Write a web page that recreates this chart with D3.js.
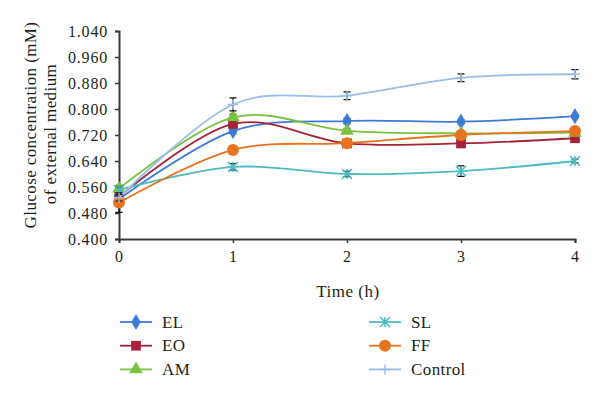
<!DOCTYPE html>
<html><head><meta charset="utf-8">
<script src="https://cdn.jsdelivr.net/npm/d3@7"></script>
<style>body{margin:0;background:#fff}svg{display:block}text{font-family:"Liberation Serif","DejaVu Serif",serif;fill:#231f20}</style>
</head><body><svg id="c" width="600" height="401"></svg>
<script>
const times = [0, 1, 2, 3, 4];
const yTicks = [0.400, 0.480, 0.560, 0.640, 0.720, 0.800, 0.880, 0.960, 1.040];
const xTicks = [0, 1, 2, 3, 4];
const seriesNames = ["EL", "EO", "AM", "SL", "FF", "Control"];
const EL = [0.522, 0.732, 0.763, 0.761, 0.778];
const EO = [0.530, 0.754, 0.694, 0.694, 0.710];
const AM = [0.555, 0.774, 0.733, 0.725, 0.727];
const SL = [0.551, 0.622, 0.600, 0.609, 0.640];
const FF = [0.512, 0.674, 0.695, 0.720, 0.732];
const Control = [0.527, 0.814, 0.841, 0.896, 0.907];
const errEL = [0.010, 0.008, 0.008, 0.006, 0.005];
const errEO = [0.010, 0.010, 0.008, 0.006, 0.006];
const errAM = [0.010, 0.010, 0.006, 0.006, 0.006];
const errSL = [0.008, 0.010, 0.008, 0.016, 0.006];
const errFF = [0.030, 0.012, 0.006, 0.006, 0.006];
const errControl = [0.010, 0.020, 0.012, 0.012, 0.014];
const colors = ["#3b7bd8", "#a52339", "#7cc242", "#4cbcc2", "#e8731f", "#9dbde9"];
const markers = ["diamond", "square", "triangle", "star", "circle", "plus"];

const values = [EL, EO, AM, SL, FF, Control];
const errs = [errEL, errEO, errAM, errSL, errFF, errControl];
const series = seriesNames.map((n, i) => ({name: n, color: colors[i], marker: markers[i],
  pts: times.map((t, j) => ({t, v: values[i][j], e: errs[i][j]}))}));

const svg = d3.select("#c");
const x = d3.scaleLinear().domain([0, 4]).range([119, 575]);
const y = d3.scaleLinear().domain([0.4, 1.04]).range([239, 31]);
const axisCol = "#3a3a3a";

// axes
const gy = svg.append("g").attr("transform", "translate(119,0)")
  .call(d3.axisLeft(y).tickValues(yTicks).tickFormat(d3.format(".3f")).tickSize(4).tickPadding(7));
const gx = svg.append("g").attr("transform", "translate(0,239)")
  .call(d3.axisBottom(x).tickValues(xTicks).tickFormat(d3.format("d")).tickSize(4).tickPadding(8));
[gy, gx].forEach(g => {
  g.select(".domain").attr("stroke", axisCol).attr("stroke-width", 2);
  g.selectAll(".tick line").attr("stroke", axisCol).attr("stroke-width", 1.5);
  g.selectAll(".tick text").attr("font-size", 16).attr("letter-spacing", 0.8)
    .attr("font-family", "Liberation Serif, serif").attr("fill", "#231f20");
});

// titles
svg.append("text").attr("transform", "translate(36,125) rotate(-90)").attr("text-anchor", "middle")
  .attr("font-size", 17).attr("letter-spacing", 0.4).text("Glucose concentration (mM)");
svg.append("text").attr("transform", "translate(56,134) rotate(-90)").attr("text-anchor", "middle")
  .attr("font-size", 17).attr("letter-spacing", 0.4).text("of external medium");
svg.append("text").attr("x", 348).attr("y", 297).attr("text-anchor", "middle")
  .attr("font-size", 17).attr("letter-spacing", 0.5).text("Time (h)");

const line = d3.line().x(d => x(d.t)).y(d => y(d.v)).curve(d3.curveCardinal.tension(0));

function drawMarker(g, type, color, cx, cy) {
  if (type === "diamond") {
    g.append("path").attr("d", d3.symbol(d3.symbolDiamond, 75)()).attr("transform", `translate(${cx},${cy})`).attr("fill", color);
  } else if (type === "square") {
    g.append("path").attr("d", d3.symbol(d3.symbolSquare, 95)()).attr("transform", `translate(${cx},${cy})`).attr("fill", color);
  } else if (type === "triangle") {
    g.append("path").attr("d", d3.symbol(d3.symbolTriangle, 80)()).attr("transform", `translate(${cx},${cy})`).attr("fill", color);
  } else if (type === "circle") {
    g.append("circle").attr("cx", cx).attr("cy", cy).attr("r", 6).attr("fill", color);
  } else if (type === "star") {
    const s = 5;
    g.append("path").attr("d", `M${cx-s},${cy-s}L${cx+s},${cy+s}M${cx-s},${cy+s}L${cx+s},${cy-s}M${cx},${cy-s}L${cx},${cy+s}`)
      .attr("stroke", color).attr("stroke-width", 1.5).attr("fill", "none");
  } else if (type === "plus") {
    const s = 5;
    g.append("path").attr("d", `M${cx-s},${cy}L${cx+s},${cy}M${cx},${cy-s}L${cx},${cy+s}`)
      .attr("stroke", color).attr("stroke-width", 1.5).attr("fill", "none");
  }
}

series.forEach(s => {
  const g = svg.append("g");
  g.append("path").datum(s.pts).attr("d", line).attr("fill", "none").attr("stroke", s.color).attr("stroke-width", 1.8);
  s.pts.forEach(p => {
    const cx = x(p.t), y0 = y(p.v - p.e), y1 = y(p.v + p.e);
    g.append("path").attr("d", `M${cx},${y0}L${cx},${y1}M${cx-3.5},${y0}L${cx+3.5},${y0}M${cx-3.5},${y1}L${cx+3.5},${y1}`)
      .attr("stroke", "#111").attr("stroke-width", 1.2).attr("fill", "none");
  });
  s.pts.forEach(p => drawMarker(g, s.marker, s.color, x(p.t), y(p.v)));
});

// legend
series.forEach((s, i) => {
  const col = i < 3 ? 0 : 1, row = i % 3;
  const lx = col === 0 ? 120 : 369, ly = 322 + row * 23.7;
  const g = svg.append("g");
  g.append("line").attr("x1", lx).attr("x2", lx + 32).attr("y1", ly).attr("y2", ly).attr("stroke", s.color).attr("stroke-width", 1.8);
  drawMarker(g, s.marker, s.color, lx + 16, ly);
  g.append("text").attr("x", lx + 42).attr("y", ly + 5.5).attr("font-size", 17).attr("letter-spacing", 0.4).text(s.name);
});
</script></body></html>
